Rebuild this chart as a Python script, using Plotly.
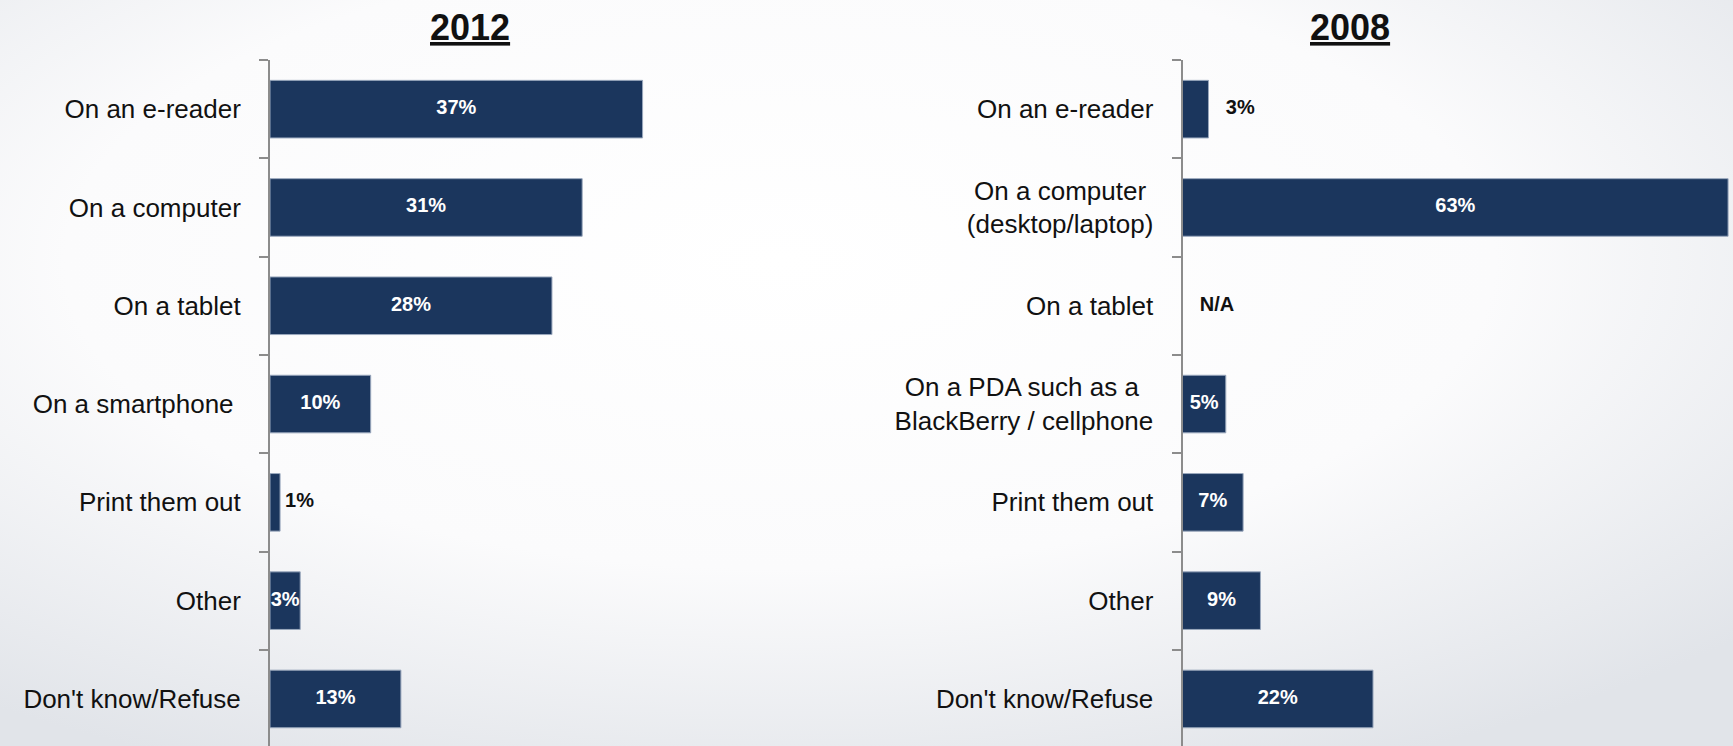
import plotly.graph_objects as go

# ---------------- data ----------------
categories_2012 = ["On an e-reader", "On a computer", "On a tablet", "On a smartphone\u00a0",
                   "Print them out", "Other", "Don't know/Refuse"]
values_2012 = [37, 31, 28, 10, 1, 3, 13]

categories_2008 = ["On an e-reader", "On a computer<br>(desktop/laptop)", "On a tablet",
                   "On a PDA such as a<br>BlackBerry / cellphone", "Print them out", "Other",
                   "Don't know/Refuse"]
values_2008 = [3, 63, None, 5, 7, 9, 22]

titles = ["2012", "2008"]

# ---------------- style ----------------
W, H = 1733, 746
BAR = "#1b365d"
EDGE = "#9aa8bd"
AXIS = "#8c8c8c"
LABEL_FONT = "Liberation Sans, Arial, sans-serif"


def centered(label):
    """Pad shorter lines of a multi-line tick label so lines look centred."""
    lines = label.split("<br>")
    if len(lines) == 1:
        return label
    longest = max(len(s) for s in lines)
    return "<br>".join(s + "\u00a0" * ((longest - len(s)) // 2) for s in lines)


top_px = 60.0
band_px = 98.3
y_dom_top = 1 - top_px / H
y_range = [-0.5 + (H - top_px) / band_px, -0.5]

panels = [
    dict(cats=categories_2012, vals=values_2012, x0=270.0, scale=10.07, xmax=40.0,
         threshold=2, offset=0.5, title=titles[0], tx=470),
    dict(cats=categories_2008, vals=values_2008, x0=1182.5, scale=8.66, xmax=None,
         threshold=4, offset=2.0, title=titles[1], tx=1350),
]

fig = go.Figure()

for i, p in enumerate(panels, start=1):
    xa = "x" if i == 1 else f"x{i}"
    ya = "y" if i == 1 else f"y{i}"
    cats, vals = p["cats"], p["vals"]

    fig.add_trace(go.Bar(
        x=vals, y=cats, orientation="h", xaxis=xa, yaxis=ya,
        marker=dict(color=BAR, line=dict(color=EDGE, width=1)),
        hoverinfo="skip", showlegend=False,
    ))

    in_x, in_y, in_t = [], [], []
    out_x, out_y, out_t = [], [], []
    for c, v in zip(cats, vals):
        if v is None:
            out_x.append(p["offset"]); out_y.append(c); out_t.append("N/A")
        elif v >= p["threshold"]:
            in_x.append(v / 2); in_y.append(c); in_t.append(f"{v}%")
        else:
            out_x.append(v + p["offset"]); out_y.append(c); out_t.append(f"{v}%")

    fig.add_trace(go.Scatter(
        x=in_x, y=in_y, text=in_t, mode="text", xaxis=xa, yaxis=ya,
        textposition="middle center", cliponaxis=False,
        textfont=dict(family=LABEL_FONT, size=20, color="white", weight="bold"),
        hoverinfo="skip", showlegend=False,
    ))
    fig.add_trace(go.Scatter(
        x=out_x, y=out_y, text=out_t, mode="text", xaxis=xa, yaxis=ya,
        textposition="middle right", cliponaxis=False,
        textfont=dict(family=LABEL_FONT, size=20, color="#111111", weight="bold"),
        hoverinfo="skip", showlegend=False,
    ))

    x_start = p["x0"] / W
    if p["xmax"] is None:
        x_end = 1.0
        xmax = (W - p["x0"]) / p["scale"]
    else:
        xmax = p["xmax"]
        x_end = (p["x0"] + xmax * p["scale"]) / W

    xkey = "xaxis" if i == 1 else f"xaxis{i}"
    ykey = "yaxis" if i == 1 else f"yaxis{i}"
    fig.update_layout({
        xkey: dict(domain=[x_start, x_end], range=[0, xmax], visible=False,
                   showgrid=False, zeroline=False, fixedrange=True, anchor=ya),
        ykey: dict(domain=[0, y_dom_top], range=y_range, type="category",
                   categoryorder="array", categoryarray=cats,
                   tickmode="array", tickvals=cats, ticktext=[centered(c) for c in cats],
                   showline=True, linecolor=AXIS, linewidth=2,
                   ticks="outside", tickson="boundaries", ticklen=9,
                   tickcolor=AXIS, tickwidth=2, showgrid=False, zeroline=False,
                   ticklabelstandoff=22,
                   tickfont=dict(family=LABEL_FONT, size=26, color="#111111"),
                   anchor=xa, fixedrange=True),
    })

    fig.add_annotation(
        x=p["tx"] / W, y=1 - 27.6 / H, xref="paper", yref="paper",
        text=p["title"], showarrow=False, xanchor="center", yanchor="middle",
        font=dict(family=LABEL_FONT, size=36, color="#111111", weight="bold",
                  lineposition="under"),
    )

bg_svg = (
    "data:image/svg+xml;utf8,"
    "<svg xmlns='http://www.w3.org/2000/svg' width='1733' height='746'>"
    "<defs><radialGradient id='g' cx='45%' cy='35%' r='75%'>"
    "<stop offset='0' stop-color='%23ffffff'/>"
    "<stop offset='0.55' stop-color='%23fbfbfc'/>"
    "<stop offset='1' stop-color='%23e1e4e9'/>"
    "</radialGradient></defs>"
    "<rect width='1733' height='746' fill='url(%23g)'/></svg>"
)

fig.update_layout(
    width=W, height=H,
    margin=dict(l=0, r=0, t=0, b=0),
    paper_bgcolor="white", plot_bgcolor="rgba(0,0,0,0)",
    bargap=0.414,
    showlegend=False,
    images=[dict(source=bg_svg, xref="paper", yref="paper", x=0, y=1,
                 sizex=1, sizey=1, sizing="stretch", layer="below",
                 xanchor="left", yanchor="top")],
)

fig.write_html("out.html", config=dict(displayModeBar=False))
